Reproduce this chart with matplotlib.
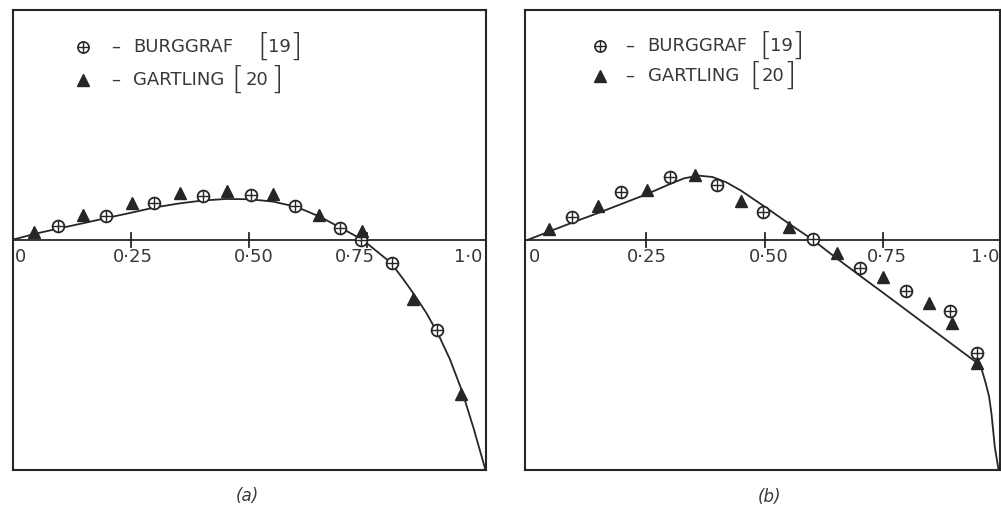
from matplotlib import pyplot as plt

# Colours of the scanned figure
ink = '#262626'
txt = '#383838'

# ---------------------------------------------------------------
# Panel (a) data
a_curve_x = [0.00, 0.05, 0.10, 0.15, 0.20, 0.25, 0.30, 0.35, 0.40, 0.45, 0.50,
             0.55, 0.60, 0.65, 0.70, 0.74, 0.80, 0.825, 0.85, 0.875, 0.90,
             0.925, 0.95, 0.975, 1.00]
a_curve_y = [0.000, 0.027, 0.050, 0.072, 0.095, 0.117, 0.140, 0.157, 0.170, 0.177, 0.176,
             0.166, 0.143, 0.100, 0.045, 0.000, -0.100, -0.168, -0.240, -0.318, -0.410,
             -0.520, -0.655, -0.820, -1.000]
a_burg_x = [0.097, 0.198, 0.300, 0.402, 0.504, 0.597, 0.692, 0.737, 0.802, 0.897]
a_burg_y = [0.058, 0.101, 0.159, 0.188, 0.196, 0.145, 0.051, 0.000, -0.101, -0.394]
a_gart_x = [0.046, 0.150, 0.253, 0.354, 0.453, 0.551, 0.647, 0.738, 0.847, 0.948]
a_gart_y = [0.032, 0.109, 0.159, 0.203, 0.210, 0.200, 0.109, 0.036, -0.258, -0.671]

# Panel (b) data
b_curve_x = [0.00, 0.05, 0.10, 0.15, 0.20, 0.25, 0.30, 0.33, 0.36, 0.39, 0.42,
             0.45, 0.50, 0.55, 0.60, 0.65, 0.70, 0.75, 0.80, 0.85, 0.90, 0.945,
             0.957, 0.966, 0.973, 0.978, 0.985, 0.993]
b_curve_y = [0.000, 0.040, 0.080, 0.118, 0.158, 0.198, 0.243, 0.268, 0.280, 0.274, 0.250,
             0.215, 0.145, 0.073, 0.003, -0.077, -0.154, -0.230, -0.307, -0.384, -0.461, -0.530,
             -0.560, -0.623, -0.681, -0.754, -0.899, -1.000]
b_burg_x = [0.093, 0.197, 0.300, 0.399, 0.497, 0.601, 0.701, 0.797, 0.890, 0.947]
b_burg_y = [0.101, 0.210, 0.275, 0.239, 0.123, 0.003, -0.123, -0.220, -0.307, -0.493]
b_gart_x = [0.046, 0.149, 0.252, 0.353, 0.450, 0.552, 0.652, 0.750, 0.847, 0.895, 0.947]
b_gart_y = [0.046, 0.148, 0.217, 0.283, 0.171, 0.058, -0.058, -0.162, -0.275, -0.360, -0.536]

# Axis ticks and labels
tick_pos = [0.25, 0.50, 0.75]
tick_labels = ['0', '0·25', '0·50', '0·75', '1·0']
a_label_x = [0.016, 0.254, 0.511, 0.724, 0.963]
b_label_x = [0.014, 0.252, 0.508, 0.758, 0.965]

names = ['–', 'BURGGRAF', 'GARTLING']
refs = ['19', '20']

# ---------------------------------------------------------------
W, H = 1001, 505
fig = plt.figure(figsize=(W / 100, H / 100), dpi=100)
ax_a = fig.add_axes([12.5 / W, 35 / H, 473 / W, 460.5 / H])
ax_b = fig.add_axes([525 / W, 35 / H, 475 / W, 460 / H])


def draw_panel(ax, cx, cy, bx, by, gx, gy, label_x, xlim):
    ax.plot(cx, cy, color=ink, lw=1.3, zorder=3)
    # circle with a cross inside
    ax.plot(bx, by, 'o', ms=8.5, mfc='white', mec=ink, mew=1.3, zorder=4)
    ax.plot(bx, by, '+', ms=8.5, mec=ink, mew=1.0, zorder=5)
    ax.plot(gx, gy, '^', ms=8.5, color=ink, zorder=4)

    # horizontal axis with crossing ticks
    ax.axhline(0, color=ink, lw=1.3, zorder=2)
    for t in tick_pos:
        ax.plot([t, t], [-0.03, 0.03], color=ink, lw=1.3, zorder=2)
    for lx, lab in zip(label_x, tick_labels):
        ax.text(lx, -0.075, lab, ha='center', va='center', fontsize=13, color=txt)

    ax.set_xlim(*xlim)
    ax.set_ylim(-1, 1)
    ax.set_xticks([])
    ax.set_yticks([])
    for s in ax.spines.values():
        s.set_color(ink)
        s.set_linewidth(1.5)


draw_panel(ax_a, a_curve_x, a_curve_y, a_burg_x, a_burg_y, a_gart_x, a_gart_y,
           a_label_x, (0, 1))
draw_panel(ax_b, b_curve_x, b_curve_y, b_burg_x, b_burg_y, b_gart_x, b_gart_y,
           b_label_x, (-0.005, 0.996))


def draw_key(ax, mx, rows_y, dash_x, name_x, br_x):
    # rows_y: (row1, row2) in axes coords; br_x: [(open, num, close), ...]
    tr = ax.transAxes
    ax.plot(mx, rows_y[0], 'o', ms=8, mfc='white', mec=ink, mew=1.2, transform=tr)
    ax.plot(mx, rows_y[0], '+', ms=8, mec=ink, mew=1.0, transform=tr)
    ax.plot(mx, rows_y[1], '^', ms=9, color=ink, transform=tr)
    for i in range(2):
        y = rows_y[i]
        ax.text(dash_x, y, names[0], ha='center', va='center', fontsize=13,
                color=txt, transform=tr)
        ax.text(name_x, y, names[i + 1], ha='left', va='center', fontsize=13,
                color=txt, transform=tr)
        o, n, c = br_x[i]
        ax.text(o, y, '[', ha='center', va='center', fontsize=23, color=txt,
                fontweight='light', transform=tr)
        ax.text(n, y, refs[i], ha='center', va='center', fontsize=13, color=txt,
                transform=tr)
        ax.text(c, y, ']', ha='center', va='center', fontsize=23, color=txt,
                fontweight='light', transform=tr)


draw_key(ax_a, 0.148, (0.919, 0.847), 0.217, 0.255,
         [(0.531, 0.565, 0.599), (0.476, 0.517, 0.558)])
draw_key(ax_b, 0.157, (0.922, 0.857), 0.221, 0.258,
         [(0.506, 0.540, 0.574), (0.486, 0.522, 0.558)])

# panel captions
fig.text(247 / W, 1 - 496 / H, '(a)', ha='center', va='center', fontsize=12,
         style='italic', color=txt)
fig.text(769 / W, 1 - 497 / H, '(b)', ha='center', va='center', fontsize=12,
         style='italic', color=txt)

plt.savefig('out.png', dpi=100, facecolor='white')
